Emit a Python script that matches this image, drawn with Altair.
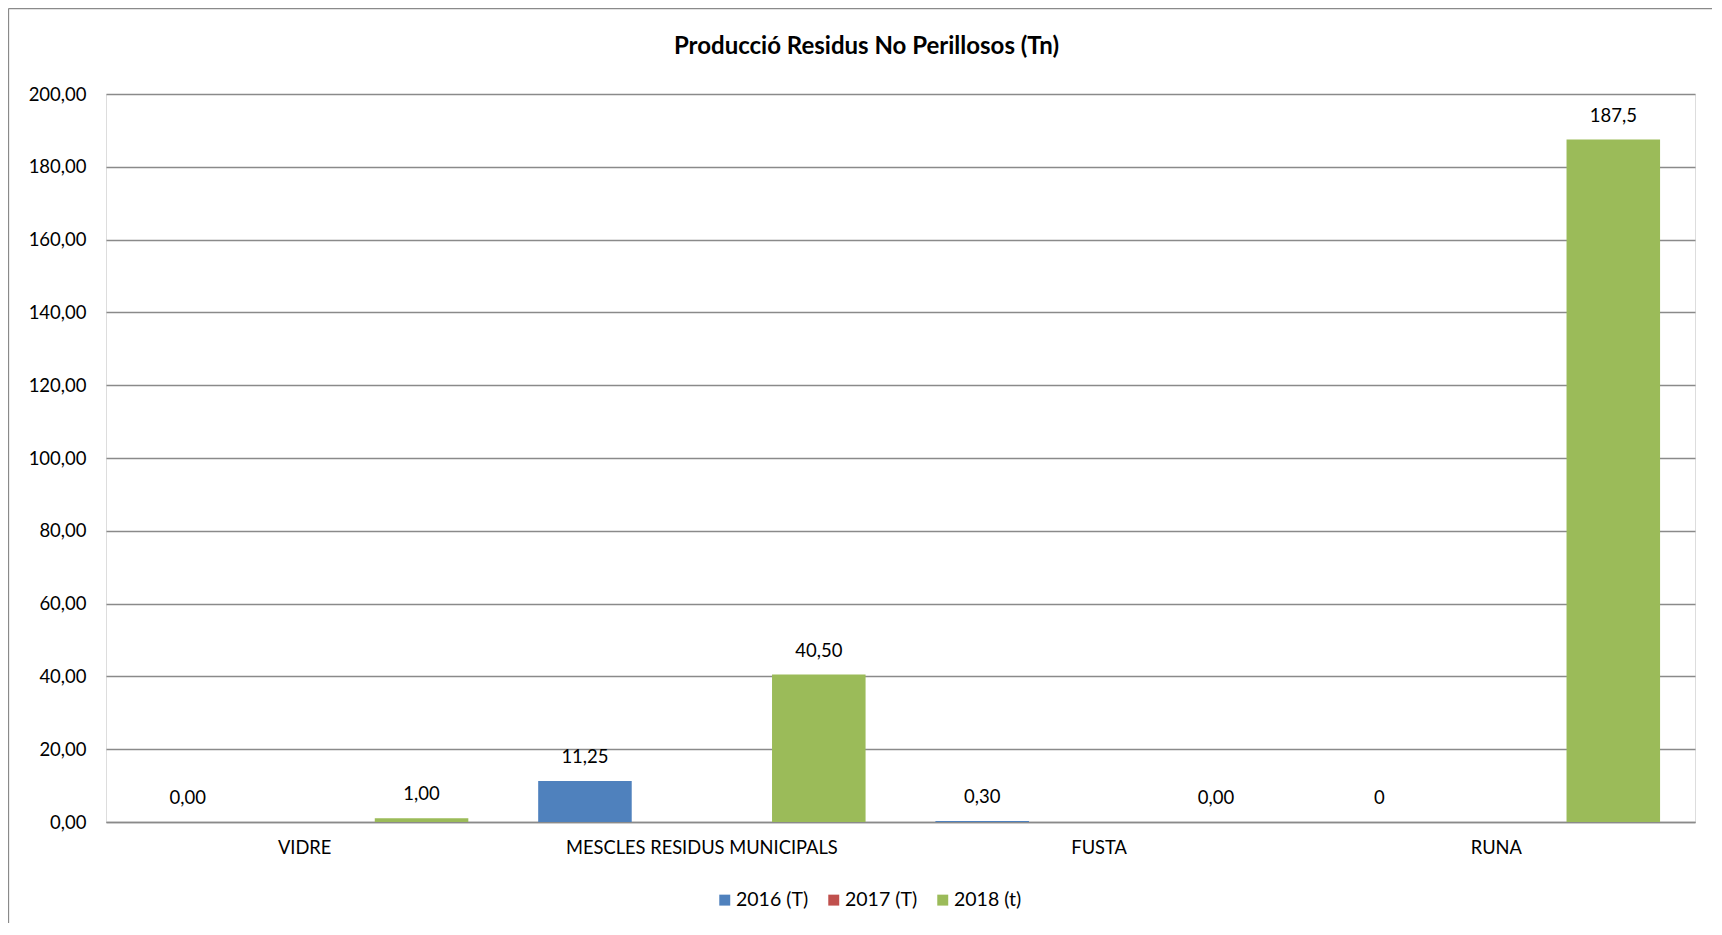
import altair as alt
import pandas as pd

categories = ["VIDRE", "MESCLES RESIDUS MUNICIPALS", "FUSTA", "RUNA"]
series = ["2016 (T)", "2017 (T)", "2018 (t)"]
values_2016 = [0.00, 11.25, 0.30, 0.0]
values_2017 = [None, None, None, None]
values_2018 = [1.00, 40.50, 0.00, 187.5]
labels_2016 = ["0,00", "11,25", "0,30", "0"]
labels_2017 = [None, None, None, None]
labels_2018 = ["1,00", "40,50", "0,00", "187,5"]
colors = ["#4F81BD", "#C0504D", "#9BBB59"]
y_ticks = [0, 20, 40, 60, 80, 100, 120, 140, 160, 180, 200]
title_text = "Producció Residus No Perillosos (Tn)"

rows = []
for s, vals, labs in zip(series, [values_2016, values_2017, values_2018],
                         [labels_2016, labels_2017, labels_2018]):
    for c, v, l in zip(categories, vals, labs):
        rows.append({"category": c, "series": s, "value": v, "label": l})
df = pd.DataFrame(rows)

FONT = "Lato"
GRID = "#8a8a8a"

base = alt.Chart(df).encode(
    x=alt.X("category:N", sort=categories,
            scale=alt.Scale(domain=categories, paddingInner=0.117, paddingOuter=0.0585),
            axis=alt.Axis(title=None, labelAngle=0, ticks=False, tickSize=0,
                          domain=True, domainColor=GRID, domainWidth=1.3,
                          labelPadding=17, labelFontSize=18.3, labelColor="#000",
                          labelFont=FONT, labelLimit=0, grid=False)),
    xOffset=alt.XOffset("series:N",
                        scale=alt.Scale(domain=series, paddingInner=0.2, paddingOuter=0.1)),
)

bars = base.mark_bar().encode(
    y=alt.Y("value:Q", scale=alt.Scale(domain=[0, 200]),
            axis=alt.Axis(title=None, values=y_ticks, ticks=False, tickSize=0,
                          domain=False, grid=True, gridColor=GRID, gridWidth=1.3,
                          labelPadding=20, labelFontSize=18.5, labelColor="#000",
                          labelFont=FONT,
                          labelExpr="replace(format(datum.value, '.2f'), '.', ',')")),
    color=alt.Color("series:N",
                    scale=alt.Scale(domain=series, range=colors),
                    legend=alt.Legend(title=None, orient="none", legendX=609, legendY=796,
                                      direction="horizontal", symbolType="square",
                                      symbolSize=120, symbolStrokeWidth=0,
                                      labelFontSize=19.5, labelFont=FONT, labelColor="#000",
                                      labelOffset=1.5, columnPadding=15)),
)

text = base.transform_filter("datum.label != null").mark_text(
    dy=-24, baseline="middle", fontSize=18.5, font=FONT, color="#000"
).encode(
    y=alt.Y("value:Q"),
    text=alt.Text("label:N"),
)

one = pd.DataFrame({"a": [0]})
border_left = alt.Chart(one).mark_rule(color=GRID, strokeWidth=1.3).encode(
    x=alt.value(-97.5), y=alt.value(-85.5), y2=alt.value(930))
border_top = alt.Chart(one).mark_rule(color=GRID, strokeWidth=1.3).encode(
    x=alt.value(-97.5), x2=alt.value(1700), y=alt.value(-85.5))

chart = alt.layer(bars, text, border_left, border_top).properties(
    width=1589, height=728,
    padding={"left": 98, "top": 86, "right": 17, "bottom": 101},
    autosize=alt.AutoSizeParams(type="none"),
    title=alt.TitleParams(title_text, fontSize=24, fontWeight="bold", font=FONT,
                          anchor="middle", dx=-34, offset=-51, color="#000"),
).configure_view(stroke=None).configure(background="white")

chart.save("out.html", embed_options={"renderer": "svg", "actions": False})
